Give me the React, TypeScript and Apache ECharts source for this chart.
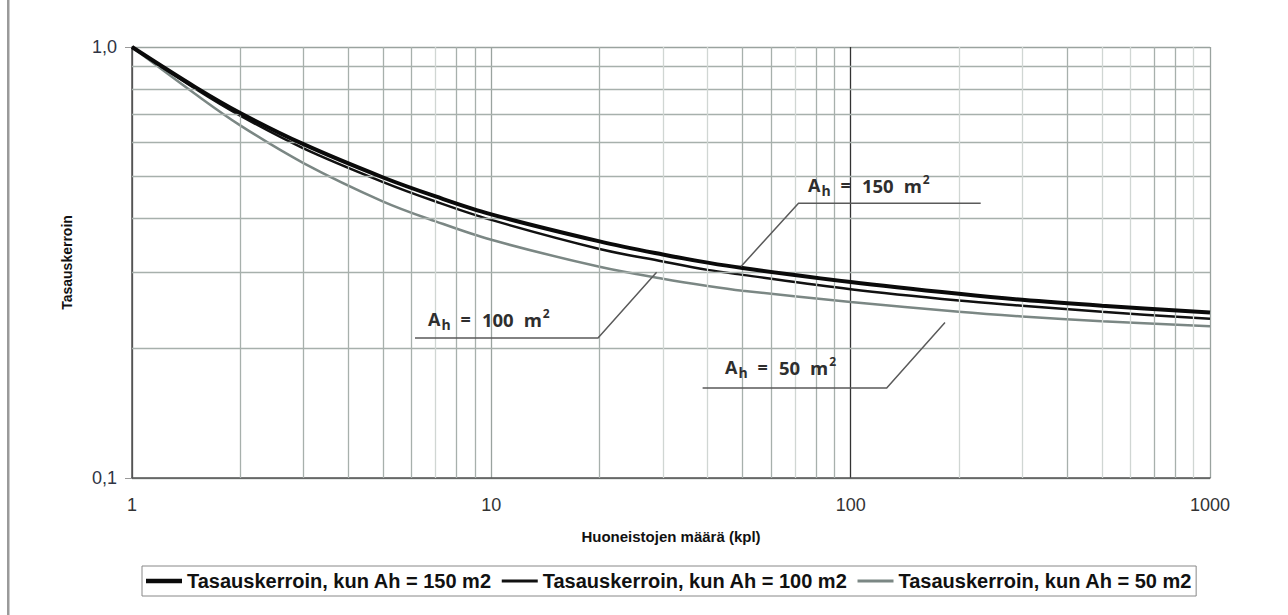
import React, { useEffect, useRef } from 'react';
import * as echarts from 'echarts';

// ---- data ----
const xValues = [1, 1.5, 2, 3, 5, 7, 10, 20, 30, 40, 50, 100, 200, 300, 500, 1000];
const coef150 = [1.0, 0.807, 0.703, 0.595, 0.498, 0.45, 0.409, 0.354, 0.33, 0.316, 0.307, 0.285, 0.2675, 0.259, 0.251, 0.242];
const coef100 = [1.0, 0.8, 0.693, 0.582, 0.486, 0.438, 0.397, 0.34, 0.318, 0.304, 0.296, 0.274, 0.258, 0.251, 0.243, 0.234];
const coef50 = [1.0, 0.778, 0.658, 0.538, 0.438, 0.394, 0.357, 0.309, 0.29, 0.279, 0.272, 0.256, 0.243, 0.237, 0.231, 0.225];
const seriesNames = [
  'Tasauskerroin, kun Ah = 150 m2',
  'Tasauskerroin, kun Ah = 100 m2',
  'Tasauskerroin, kun Ah = 50 m2',
];
const xMin = 1;
const xMax = 1000;
const yMin = 0.1;
const yMax = 1;
const xMinorGridMedium = [2, 3, 4, 5, 6, 8, 9, 20, 50, 60, 80, 90, 400, 700, 800];
const xMinorGridLight = [7, 30, 40, 70, 200, 300, 500, 600, 900];
const yMinorGrid = [0.2, 0.3, 0.4, 0.5, 0.6, 0.7, 0.8, 0.9];
const annotationAreas = ['150', '100', '50'];

const pairs = (ys: number[]) => xValues.map((x, i) => [x, ys[i]]);

const annFont = {
  fontFamily: 'Open Sans',
  fontWeight: 'bold' as any,
  fill: '#2e2e2e',
};

function annotationText(area: string, x: number, y: number) {
  return {
    type: 'text',
    x,
    y,
    z: 20,
    style: {
      text: `{a|A}{s|h}{e|=}{n|${area}}{m|m}{p|2}`,
      verticalAlign: 'middle',
      rich: {
        a: { ...annFont, fontSize: 18, lineHeight: 30, verticalAlign: 'middle' },
        s: { ...annFont, fontSize: 14, lineHeight: 14, verticalAlign: 'bottom', padding: [0, 0, 3, 1] },
        e: { ...annFont, fontSize: 18, lineHeight: 30, verticalAlign: 'middle', padding: [0, 11, 0, 10] },
        n: { ...annFont, fontSize: 18.5, lineHeight: 30, verticalAlign: 'middle' },
        m: { ...annFont, fontSize: 18.5, lineHeight: 30, verticalAlign: 'middle', padding: [0, 0, 0, 10] },
        p: { ...annFont, fontSize: 12, lineHeight: 12, verticalAlign: 'top', padding: [3, 0, 0, 1] },
      },
    },
  };
}

function leader(points: number[][]) {
  return {
    type: 'polyline',
    z: 20,
    shape: { points },
    style: { stroke: '#5a5a5a', lineWidth: 1.5, fill: 'none' },
  };
}

export default function App() {
  const ref = useRef<HTMLDivElement>(null);

  useEffect(() => {
    if (!ref.current) return;
    const chart = echarts.init(ref.current, undefined, { renderer: 'svg' });

    const lineSeries = (name: string, ys: number[], color: string, width: number, z: number) => ({
      name,
      type: 'line',
      data: pairs(ys),
      smooth: 0.35,
      symbol: 'none',
      showSymbol: false,
      z,
      lineStyle: { color, width },
      itemStyle: { color },
    });

    const option: any = {
      animation: false,
      backgroundColor: '#ffffff',
      grid: { left: 132, right: 78, top: 47, bottom: 137, containLabel: false },
      xAxis: {
        type: 'log',
        logBase: 10,
        min: xMin,
        max: xMax,
        name: 'Huoneistojen määrä (kpl)',
        nameLocation: 'middle',
        nameGap: 51,
        nameTextStyle: { fontFamily: 'Liberation Sans', fontSize: 15, fontWeight: 'bold', color: '#111' },
        axisLine: { show: true, lineStyle: { color: '#555', width: 1.5 } },
        axisTick: { show: false },
        axisLabel: {
          fontFamily: 'Liberation Sans',
          fontSize: 18,
          color: '#333',
          margin: 18,
          formatter: (v: number) => String(Math.round(v)),
        },
        splitLine: { show: true, lineStyle: { color: ['#555', '#9aa39f', '#333', '#9aa39f'], width: 1.3 } },
        minorTick: { show: false },
      },
      yAxis: {
        type: 'log',
        logBase: 10,
        min: yMin,
        max: yMax,
        name: 'Tasauskerroin',
        nameLocation: 'middle',
        nameRotate: 90,
        nameGap: 58,
        nameTextStyle: { fontFamily: 'Liberation Sans', fontSize: 14, fontWeight: 'bold', color: '#111' },
        axisLine: { show: true, lineStyle: { color: '#555', width: 1.5 } },
        axisTick: { show: true, length: 7, lineStyle: { color: '#999' } },
        axisLabel: {
          fontFamily: 'Liberation Sans',
          fontSize: 18,
          color: '#2f3444',
          margin: 15,
          formatter: (v: number) => v.toFixed(1).replace('.', ','),
        },
        splitLine: { show: true, lineStyle: { color: '#9aa39f', width: 1.3 } },
      },
      legend: {
        data: [
          { name: seriesNames[0], icon: 'path://M0,0H36V4.5H0Z' },
          { name: seriesNames[1], icon: 'path://M0,0H36V2.8H0Z' },
          { name: seriesNames[2], icon: 'path://M0,0H36V2.8H0Z' },
        ],
        left: 142,
        top: 566,
        orient: 'horizontal',
        padding: [5, 4, 5, 4],
        itemGap: 10,
        itemWidth: 36,
        itemHeight: 14,
        symbolKeepAspect: true,
        borderColor: '#888',
        borderWidth: 1,
        textStyle: { fontFamily: 'Liberation Sans', fontSize: 20, fontWeight: 'bold', color: '#111' },
      },
      series: [
        {
          name: 'grid',
          type: 'line',
          data: [],
          z: 1,
          silent: true,
          markLine: {
            silent: true,
            symbol: 'none',
            label: { show: false },
            animation: false,
            lineStyle: { color: '#a7b0ac', width: 1.3, type: 'solid' },
            data: [
              ...xMinorGridMedium.map((v) => ({ xAxis: v })),
              ...yMinorGrid.map((v) => ({ yAxis: v })),
            ],
          },
        },
        {
          name: 'gridLight',
          type: 'line',
          data: [],
          z: 1,
          silent: true,
          markLine: {
            silent: true,
            symbol: 'none',
            label: { show: false },
            animation: false,
            lineStyle: { color: '#d0d6d3', width: 1.3, type: 'solid' },
            data: xMinorGridLight.map((v) => ({ xAxis: v })),
          },
        },
        lineSeries(seriesNames[2], coef50, '#7b8784', 2.5, 3),
        lineSeries(seriesNames[1], coef100, '#111111', 2.5, 4),
        lineSeries(seriesNames[0], coef150, '#0a0a0a', 4, 5),
      ],
      graphic: [
        { type: 'rect', shape: { x: 7, y: 0, width: 2.5, height: 615 }, style: { fill: '#9a9a9a' }, z: 20 },
        annotationText(annotationAreas[0], 808, 185),
        leader([[980.7, 203.3], [798.5, 203.3], [741, 266.5]]),
        annotationText(annotationAreas[1], 428, 319),
        leader([[415, 338], [598, 338], [656.6, 272.2]]),
        annotationText(annotationAreas[2], 725, 367),
        leader([[702.6, 387.9], [886.7, 387.9], [945, 322.4]]),
      ],
    };

    chart.setOption(option);
    return () => chart.dispose();
  }, []);

  return (
    <div
      ref={ref}
      style={{ position: 'fixed', left: 0, top: 0, width: 1288, height: 615, background: '#fff' }}
    />
  );
}
